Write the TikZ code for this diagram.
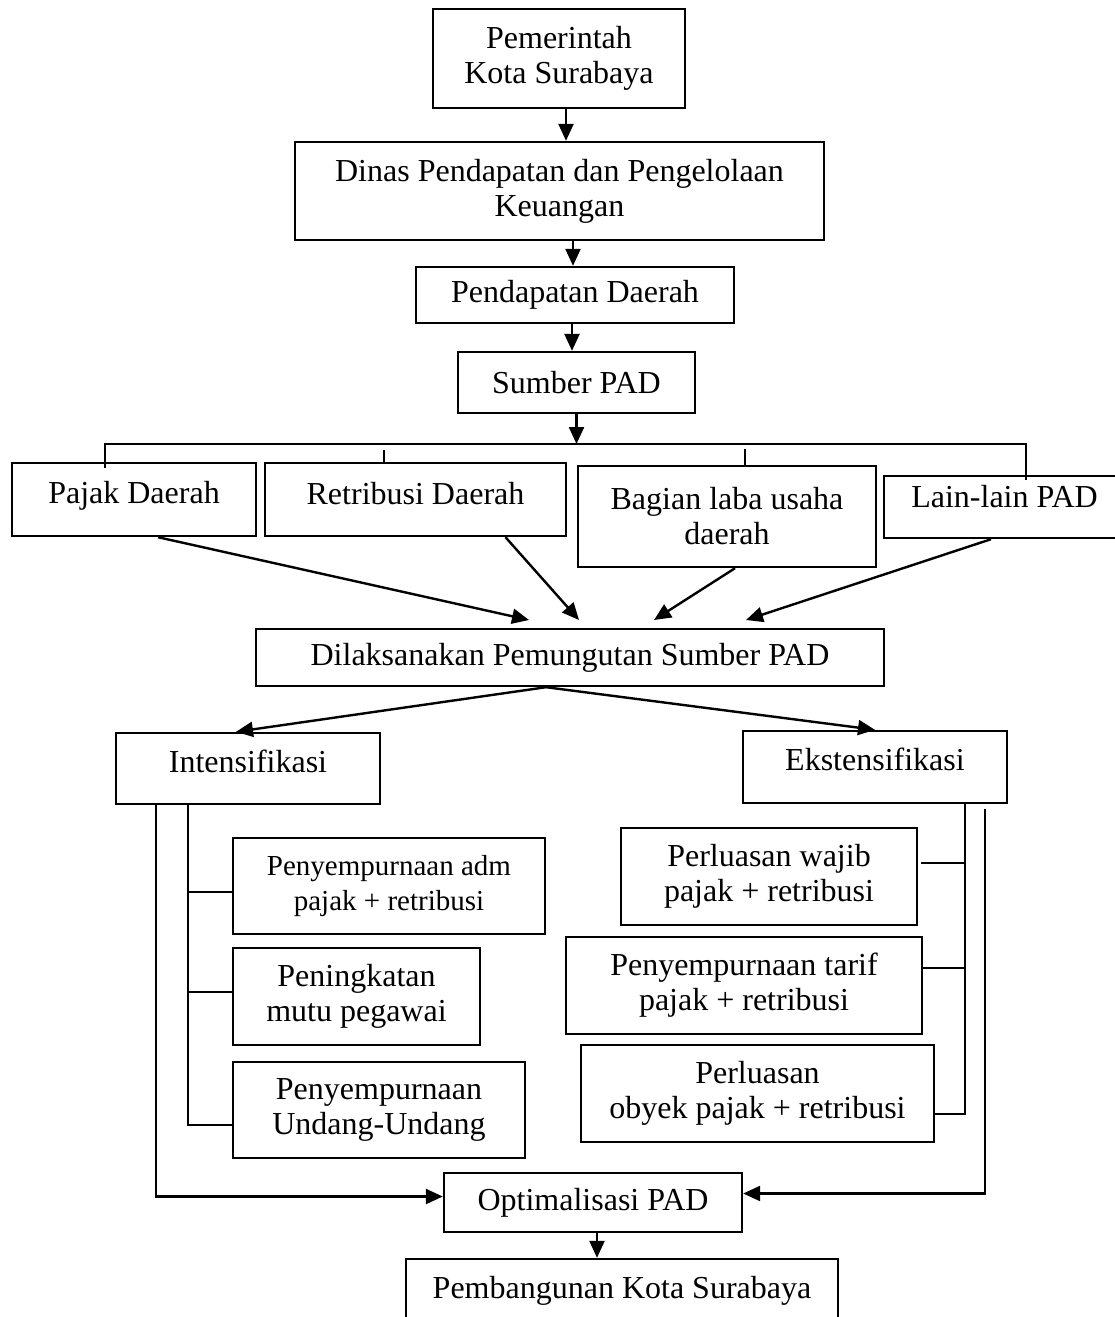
\documentclass[tikz,border=0pt]{standalone}
\usepackage{fontspec}
\setmainfont{Liberation Serif}
\usetikzlibrary{arrows.meta}
\tikzset{
kotak/.style={draw, line width=2.4pt, inner sep=0pt, align=center, font=\fontsize{32}{35}\selectfont},
garis/.style={line width=2.4pt},
panah/.style={line width=2.4pt, -{Triangle[length=17pt,width=15pt]}}
}
\begin{document}
\begin{tikzpicture}[x=1pt,y=-1pt]
\useasboundingbox (0,0) rectangle (1114,1317);
\fill[white] (0,0) rectangle (1114,1317);
\node[kotak, minimum width=252pt, minimum height=99pt] (pemkot) at (559,58.5) {Pemerintah\\Kota Surabaya};
\node[kotak, minimum width=529pt, minimum height=98pt] (dinas) at (559.5,191) {Dinas Pendapatan dan Pengelolaan\\Keuangan};
\node[kotak, minimum width=318pt, minimum height=56pt] (pendapatan) at (575,295) {Pendapatan Daerah};
\node[kotak, minimum width=237pt, minimum height=61pt] (sumber) at (576.5,382.5) {Sumber PAD};
\node[kotak, minimum width=244pt, minimum height=73pt, text depth=15pt] (pajak) at (134,499.5) {Pajak Daerah};
\node[kotak, minimum width=301pt, minimum height=73pt, text depth=12pt] (retribusi) at (415.5,499.5) {Retribusi Daerah};
\node[kotak, minimum width=298pt, minimum height=101pt] (bagian) at (727,516.5) {Bagian laba usaha\\daerah};
\node[kotak, minimum width=241pt, minimum height=62pt, text depth=22pt] (lain) at (1004.5,507) {Lain-lain PAD};
\node[kotak, minimum width=628pt, minimum height=57pt] (dilaks) at (570,657.5) {Dilaksanakan Pemungutan Sumber PAD};
\node[kotak, minimum width=264pt, minimum height=71pt, text depth=14pt] (intens) at (248,768.5) {Intensifikasi};
\node[kotak, minimum width=264pt, minimum height=72pt, text depth=16pt] (ekst) at (875,767) {Ekstensifikasi};
\node[kotak, minimum width=312pt, minimum height=96pt, font=\fontsize{29}{35}\selectfont] (adm) at (389,886) {Penyempurnaan adm\\pajak + retribusi};
\node[kotak, minimum width=247pt, minimum height=97pt] (peningkatan) at (356.5,996.5) {Peningkatan\\mutu pegawai};
\node[kotak, minimum width=292pt, minimum height=96pt] (undang) at (379,1110) {Penyempurnaan\\Undang-Undang};
\node[kotak, minimum width=296pt, minimum height=97pt] (wajib) at (769,876.5) {Perluasan wajib\\pajak + retribusi};
\node[kotak, minimum width=356pt, minimum height=97pt] (tarif) at (744,985.5) {Penyempurnaan tarif\\pajak + retribusi};
\node[kotak, minimum width=353pt, minimum height=97pt] (obyek) at (757.5,1093.5) {Perluasan\\obyek pajak + retribusi};
\node[kotak, minimum width=298pt, minimum height=59pt] (optimal) at (593,1202.5) {Optimalisasi PAD};
\node[kotak, minimum width=432pt, minimum height=63pt] (pembangunan) at (622,1290.5) {Pembangunan Kota Surabaya};
\draw[panah] ([xshift=7pt]pemkot.south) -- ([xshift=7pt]pemkot.south |- dinas.north);
\draw[panah] ([xshift=13.5pt]dinas.south) -- ([xshift=13.5pt]dinas.south |- pendapatan.north);
\draw[panah] ([xshift=-3pt]pendapatan.south) -- ([xshift=-3pt]pendapatan.south |- sumber.north);
\coordinate (busKiri) at (105,444);
\coordinate (busKanan) at (1026,444);
\draw[panah] (sumber.south) -- (sumber.south |- busKiri);
\draw[garis] ([yshift=-6pt]pajak.north -| busKiri) -- (busKiri) -- (busKanan) -- ([yshift=-5pt]lain.north -| busKanan);
\coordinate (tikRetribusi) at (384,450);
\coordinate (tikBagian) at (745,449);
\draw[garis] (tikRetribusi) -- (tikRetribusi |- retribusi.north);
\draw[garis] (tikBagian) -- (tikBagian |- bagian.north);
\coordinate (ujung1) at (529,620);
\coordinate (ujung2) at (579,620);
\coordinate (ujung3) at (654,620);
\coordinate (ujung4) at (746,620);
\draw[panah] ([xshift=24pt]pajak.south) -- (ujung1);
\draw[panah] ([xshift=90pt]retribusi.south) -- (ujung2);
\draw[panah] ([xshift=8pt]bagian.south) -- (ujung3);
\draw[panah] ([xshift=-13.5pt]lain.south) -- (ujung4);
\draw[panah] ([xshift=-24pt]dilaks.south) -- ([xshift=-12pt]intens.north);
\draw[panah] ([xshift=-24pt]dilaks.south) -- (ekst.north);
\coordinate (tulangKiri) at ([xshift=73pt]intens.south west);
\draw[garis] (tulangKiri) |- ([yshift=-15pt]undang.west);
\draw[garis] ([yshift=-6pt]adm.west) -- ([yshift=-6pt]adm.west -| tulangKiri);
\draw[garis] ([yshift=4.5pt]peningkatan.west) -- ([yshift=4.5pt]peningkatan.west -| tulangKiri);
\draw[panah] ([xshift=41pt]intens.south west) |- ([yshift=6pt]optimal.west);
\coordinate (tulangKanan) at ([xshift=-43pt]ekst.south east);
\draw[garis] (tulangKanan) |- ([yshift=-20.5pt]obyek.east);
\draw[garis] ([xshift=3pt,yshift=13.5pt]wajib.east) -- ([yshift=13.5pt]wajib.east -| tulangKanan);
\draw[garis] ([yshift=17.5pt]tarif.east) -- ([yshift=17.5pt]tarif.east -| tulangKanan);
\draw[panah] ([xshift=-23pt,yshift=-5pt]ekst.south east) |- ([yshift=9pt]optimal.east);
\draw[panah] ([xshift=4pt]optimal.south) -- ([xshift=4pt]optimal.south |- pembangunan.north);
\end{tikzpicture}
\end{document}
